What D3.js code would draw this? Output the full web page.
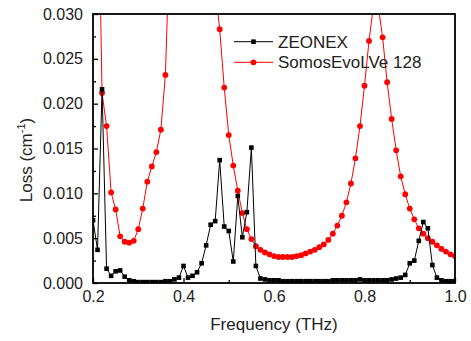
<!DOCTYPE html>
<html>
<head>
<meta charset="utf-8">
<script src="https://cdn.jsdelivr.net/npm/d3@7"></script>
<style>
  html, body { margin: 0; padding: 0; background: #fff; }
  svg { display: block; }
  text { font-family: "Liberation Sans", Arial, sans-serif; fill: #222; }
</style>
</head>
<body>
<svg id="chart" width="471" height="341"></svg>
<script>
// Frequency (THz), sampled every 0.01 THz
const frequency = [0.20,0.21,0.22,0.23,0.24,0.25,0.26,0.27,0.28,0.29,
  0.30,0.31,0.32,0.33,0.34,0.35,0.36,0.37,0.38,0.39,
  0.40,0.41,0.42,0.43,0.44,0.45,0.46,0.47,0.48,0.49,
  0.50,0.51,0.52,0.53,0.54,0.55,0.56,0.57,0.58,0.59,
  0.60,0.61,0.62,0.63,0.64,0.65,0.66,0.67,0.68,0.69,
  0.70,0.71,0.72,0.73,0.74,0.75,0.76,0.77,0.78,0.79,
  0.80,0.81,0.82,0.83,0.84,0.85,0.86,0.87,0.88,0.89,
  0.90,0.91,0.92,0.93,0.94,0.95,0.96,0.97,0.98,0.99,1.00];

// Loss (cm^-1)
const zeonex = [0.0070,0.0037,0.0216,0.0016,0.0008,0.0013,0.0014,0.0007,0.0003,0.0002,
  0.0001,0.0001,0.0001,0.0001,0.0001,0.0001,0.0002,0.0002,0.0004,0.0006,
  0.0019,0.0006,0.0008,0.0012,0.0022,0.0042,0.0065,0.0069,0.0137,0.0063,
  0.0058,0.0024,0.0097,0.0051,0.0079,0.0151,0.0019,0.0005,0.0004,0.0003,
  0.0003,0.0003,0.0002,0.0002,0.0002,0.0002,0.0002,0.0002,0.0002,0.0002,
  0.0002,0.0002,0.0002,0.0003,0.0003,0.0003,0.0003,0.0003,0.0003,0.0004,
  0.0003,0.0003,0.0003,0.0003,0.0003,0.0003,0.0004,0.0005,0.0006,0.0009,
  0.0022,0.0025,0.0047,0.0068,0.0061,0.0020,0.0006,0.0003,0.0002,0.0002,0.0002];

const somos = [0.090,0.050,0.0212,0.0175,0.0101,0.0082,0.0052,0.0046,0.0045,0.0047,
  0.0060,0.0083,0.0113,0.0130,0.0146,0.0171,0.0232,0.039,0.065,0.10,
  0.15,0.20,0.24,0.25,0.20,0.12,0.065,0.033,0.0283,0.0218,
  0.0165,0.0131,0.0103,0.0078,0.0060,0.0049,0.0041,0.0037,0.0034,0.0032,
  0.0030,0.0029,0.0029,0.0029,0.0029,0.0030,0.0031,0.0033,0.0035,0.0037,
  0.0040,0.0043,0.0048,0.0055,0.0064,0.0075,0.0090,0.0111,0.0139,0.0175,
  0.0220,0.0270,0.031,0.031,0.0274,0.0224,0.0183,0.0148,0.0119,0.0099,
  0.0083,0.0071,0.0061,0.0055,0.0050,0.0046,0.0042,0.0038,0.0035,0.0032,0.0030];

const seriesNames = ["ZEONEX", "SomosEvoLVe 128"];
const xTicks = [0.2, 0.4, 0.6, 0.8, 1.0];
const xMinorTicks = [0.3, 0.5, 0.7, 0.9];
const yTicks = [0, 0.005, 0.010, 0.015, 0.020, 0.025, 0.030];
const yMinorTicks = [0.0025, 0.0075, 0.0125, 0.0175, 0.0225, 0.0275];

const svg = d3.select("#chart");
const L = 93, R = 455, T = 14, B = 283;
const x = d3.scaleLinear().domain([0.2, 1.0]).range([L, R]);
const y = d3.scaleLinear().domain([0, 0.03]).range([B, T]);

svg.append("defs").append("clipPath").attr("id", "plotclip")
  .append("rect").attr("x", L).attr("y", T).attr("width", R - L).attr("height", B - T);

// axes
const fmtY = d3.format(".3f"), fmtX = d3.format(".1f");
const gx = svg.append("g").attr("transform", `translate(0,${B})`)
  .call(d3.axisBottom(x).tickValues(xTicks).tickFormat(fmtX).tickSizeInner(-5).tickSizeOuter(0).tickPadding(8));
const gxm = svg.append("g").attr("transform", `translate(0,${B})`)
  .call(d3.axisBottom(x).tickValues(xMinorTicks).tickFormat("").tickSizeInner(-3).tickSizeOuter(0));
const gy = svg.append("g").attr("transform", `translate(${L},0)`)
  .call(d3.axisLeft(y).tickValues(yTicks).tickFormat(fmtY).tickSizeInner(-5).tickSizeOuter(0).tickPadding(10));
const gym = svg.append("g").attr("transform", `translate(${L},0)`)
  .call(d3.axisLeft(y).tickValues(yMinorTicks).tickFormat("").tickSizeInner(-3).tickSizeOuter(0));
[gx, gxm, gy, gym].forEach(g => {
  g.select(".domain").remove();
  g.selectAll("line").attr("stroke", "#000").attr("stroke-width", 1.3);
  g.selectAll("text").style("font-size", "16px").attr("fill", "#222");
});

// data
const plot = svg.append("g").attr("clip-path", "url(#plotclip)");
const line = d3.line().x(d => x(d[0])).y(d => y(d[1]));
const redData = frequency.map((f, i) => [f, somos[i]]);
const blackData = frequency.map((f, i) => [f, zeonex[i]]);

plot.append("path").datum(redData).attr("d", line)
  .attr("fill", "none").attr("stroke", "#ff0000").attr("stroke-width", 1);
plot.selectAll("circle.red").data(redData).join("circle").attr("class", "red")
  .attr("cx", d => x(d[0])).attr("cy", d => y(d[1])).attr("r", 2.9).attr("fill", "#ff0000");

plot.append("path").datum(blackData).attr("d", line)
  .attr("fill", "none").attr("stroke", "#000").attr("stroke-width", 1);
const sq = 4.6;
plot.selectAll("rect.blk").data(blackData).join("rect").attr("class", "blk")
  .attr("x", d => x(d[0]) - sq / 2).attr("y", d => y(d[1]) - sq / 2)
  .attr("width", sq).attr("height", sq).attr("fill", "#000");

// frame
svg.append("rect").attr("x", L).attr("y", T).attr("width", R - L).attr("height", B - T)
  .attr("fill", "none").attr("stroke", "#000").attr("stroke-width", 1.8);

// titles
svg.append("text").attr("x", (L + R) / 2).attr("y", 330).attr("text-anchor", "middle")
  .style("font-size", "17px").text("Frequency (THz)");
const yt = svg.append("text").attr("transform", "translate(32,160) rotate(-90)")
  .attr("text-anchor", "middle").style("font-size", "17px");
yt.append("tspan").text("Loss (cm");
yt.append("tspan").attr("dy", -7).style("font-size", "11px").text("-1");
yt.append("tspan").attr("dy", 7).text(")");

// legend
const legend = svg.append("g");
const legY = [41.7, 62.3];
legend.append("line").attr("x1", 234).attr("x2", 273).attr("y1", legY[0]).attr("y2", legY[0])
  .attr("stroke", "#000").attr("stroke-width", 1);
legend.append("rect").attr("x", 253.5 - sq / 2).attr("y", legY[0] - sq / 2).attr("width", sq).attr("height", sq).attr("fill", "#000");
legend.append("line").attr("x1", 234).attr("x2", 273).attr("y1", legY[1]).attr("y2", legY[1])
  .attr("stroke", "#ff0000").attr("stroke-width", 1);
legend.append("circle").attr("cx", 253.5).attr("cy", legY[1]).attr("r", 2.9).attr("fill", "#ff0000");
seriesNames.forEach((n, i) => {
  legend.append("text").attr("x", 278).attr("y", legY[i] + 6).style("font-size", "17px").text(n);
});
</script>
</body>
</html>
